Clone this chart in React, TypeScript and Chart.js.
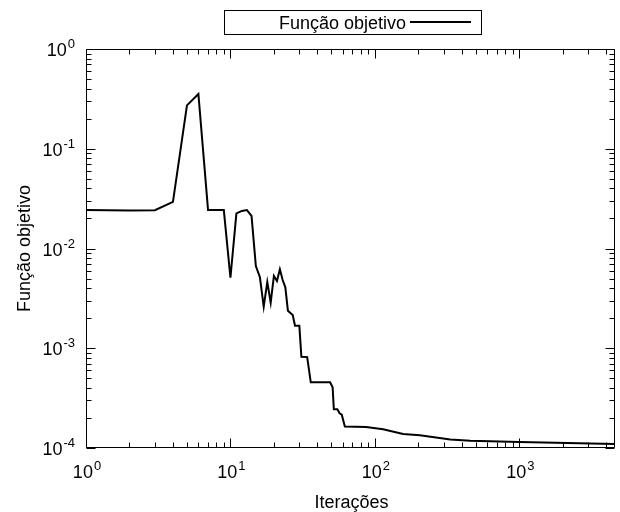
import React, { useEffect, useRef } from "react";
import { Chart, registerables } from "chart.js";

Chart.register(...registerables);

// Data
const iterations = [
  1, 2, 3, 4, 5, 6, 7, 8, 9, 10, 11, 12, 13, 14, 15, 16, 17, 18, 19, 20, 21, 22, 23, 24, 25, 27, 28, 30,
  31, 34, 36, 49, 51, 52, 55, 57, 59, 62, 87, 114, 157, 205, 333, 458, 1000, 4600,
];
const objective = [
  0.0243, 0.0240, 0.0242, 0.0294, 0.272, 0.354, 0.0243, 0.0243, 0.0243, 0.00509, 0.0225, 0.0238, 0.0243,
  0.0212, 0.00668, 0.00515, 0.00261, 0.00461, 0.00286, 0.0053, 0.00472, 0.00618, 0.00483, 0.00408, 0.00238,
  0.00215, 0.00168, 0.00168, 0.000822, 0.000815, 0.000456, 0.000456, 0.000406, 0.000244, 0.000244, 0.000223,
  0.000216, 0.000164, 0.000162, 0.000154, 0.000138, 0.000134, 0.000122, 0.000118, 0.000115, 0.0001096,
];

const xMin = 1;
const xMax = 4600;
const yMin = 1e-4;
const yMax = 1;

const xMajorTicks = [1, 10, 100, 1000];
const xMajorExps = ["0", "1", "2", "3"];
const yMajorTicks = [1, 0.1, 0.01, 0.001, 0.0001];
const yMajorExps = ["0", "-1", "-2", "-3", "-4"];
const minorMantissas = [2, 3, 4, 5, 6, 7, 8, 9];

const xTitle = "Iterações";
const yTitle = "Função objetivo";
const legendLabel = "Função objetivo";

const FONT = "'Liberation Sans', Arial, Helvetica, sans-serif";

function drawPow(ctx: CanvasRenderingContext2D, exp: string, x: number, baseline: number, align: "center" | "right") {
  ctx.save();
  ctx.textAlign = "left";
  ctx.textBaseline = "alphabetic";
  ctx.font = `18px ${FONT}`;
  const wb = ctx.measureText("10").width;
  ctx.font = `13px ${FONT}`;
  const we = ctx.measureText(exp).width;
  const total = wb + 1 + we;
  const start = align === "center" ? x - total / 2 : x - total;
  ctx.fillStyle = "#000";
  ctx.font = `18px ${FONT}`;
  ctx.fillText("10", start, baseline);
  ctx.font = `13px ${FONT}`;
  ctx.fillText(exp, start + wb + 1, baseline - 8);
  ctx.restore();
}

const gnuplotPlugin = {
  id: "gnuplotDecor",
  afterDraw(chart: any) {
    const ctx: CanvasRenderingContext2D = chart.ctx;
    const area = chart.chartArea;
    const xs = chart.scales.x;
    const ys = chart.scales.y;
    const L = Math.round(area.left) + 0.5;
    const R = Math.round(area.right) - 0.5;
    const T = Math.round(area.top) + 0.5;
    const B = Math.round(area.bottom) - 0.5;

    ctx.save();
    ctx.strokeStyle = "#000";
    ctx.lineWidth = 1;
    ctx.beginPath();
    ctx.rect(L, T, R - L, B - T);
    ctx.stroke();

    const major = 9;
    const minor = 5;
    ctx.beginPath();
    // x ticks
    for (const v of xMajorTicks) {
      const px = Math.round(xs.getPixelForValue(v)) + 0.5;
      ctx.moveTo(px, B);
      ctx.lineTo(px, B - major);
      ctx.moveTo(px, T);
      ctx.lineTo(px, T + major);
    }
    for (const d of xMajorTicks) {
      for (const m of minorMantissas) {
        const v = d * m;
        if (v > xMax) continue;
        const px = Math.round(xs.getPixelForValue(v)) + 0.5;
        ctx.moveTo(px, B);
        ctx.lineTo(px, B - minor);
        ctx.moveTo(px, T);
        ctx.lineTo(px, T + minor);
      }
    }
    // y ticks
    for (const v of yMajorTicks) {
      const py = Math.round(ys.getPixelForValue(v)) + 0.5;
      ctx.moveTo(L, py);
      ctx.lineTo(L + major, py);
      ctx.moveTo(R, py);
      ctx.lineTo(R - major, py);
    }
    for (const d of yMajorTicks) {
      if (d >= yMax) continue;
      for (const m of minorMantissas) {
        const v = d * m;
        const py = Math.round(ys.getPixelForValue(v)) + 0.5;
        ctx.moveTo(L, py);
        ctx.lineTo(L + minor, py);
        ctx.moveTo(R, py);
        ctx.lineTo(R - minor, py);
      }
    }
    ctx.stroke();

    // tick labels
    xMajorTicks.forEach((v, i) => {
      drawPow(ctx, xMajorExps[i], xs.getPixelForValue(v) + 1, 478, "center");
    });
    yMajorTicks.forEach((v, i) => {
      drawPow(ctx, yMajorExps[i], area.left - 11, ys.getPixelForValue(v) + 7, "right");
    });

    // axis titles
    ctx.fillStyle = "#000";
    ctx.font = `18px ${FONT}`;
    ctx.textAlign = "center";
    ctx.textBaseline = "alphabetic";
    ctx.fillText(xTitle, (area.left + area.right) / 2 + 1, 508);
    ctx.save();
    ctx.translate(30, (area.top + area.bottom) / 2);
    ctx.rotate(-Math.PI / 2);
    ctx.fillText(yTitle, 0, 0);
    ctx.restore();

    // legend
    ctx.strokeStyle = "#000";
    ctx.lineWidth = 1;
    ctx.strokeRect(224.5, 10.5, 257, 24);
    ctx.textAlign = "right";
    ctx.fillText(legendLabel, 406, 29);
    ctx.lineWidth = 2;
    ctx.beginPath();
    ctx.moveTo(410, 22);
    ctx.lineTo(471, 22);
    ctx.stroke();
    ctx.restore();
  },
};

export default function App() {
  const ref = useRef<HTMLCanvasElement | null>(null);
  useEffect(() => {
    if (!ref.current) return;
    const chart = new Chart(ref.current, {
      type: "scatter",
      data: {
        datasets: [
          {
            label: legendLabel,
            data: iterations.map((x, i) => ({ x, y: objective[i] })),
            showLine: true,
            borderColor: "#000",
            borderWidth: 2,
            pointRadius: 0,
            tension: 0,
            fill: false,
          },
        ],
      },
      options: {
        animation: false,
        responsive: false,
        devicePixelRatio: 1,
        layout: { padding: { left: 86, top: 49, right: 5, bottom: 64 } },
        plugins: { legend: { display: false }, tooltip: { enabled: false }, title: { display: false } },
        scales: {
          x: { type: "logarithmic", min: xMin, max: xMax, display: false },
          y: { type: "logarithmic", min: yMin, max: yMax, display: false },
        },
      },
      plugins: [gnuplotPlugin],
    });
    return () => chart.destroy();
  }, []);
  return (
    <div style={{ position: "absolute", left: 0, top: 0, width: 620, height: 512, background: "#fff" }}>
      <canvas ref={ref} width={620} height={512} />
    </div>
  );
}
